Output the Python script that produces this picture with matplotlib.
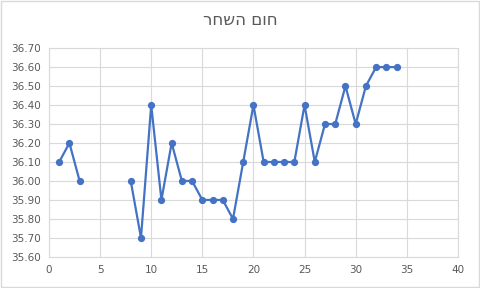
import numpy as np
import matplotlib.pyplot as plt
from matplotlib.patches import Rectangle

# נתונים
title = 'חום השחר'
days = [1, 2, 3, 4, 5, 6, 7, 8, 9, 10, 11, 12, 13, 14, 15, 16, 17,
        18, 19, 20, 21, 22, 23, 24, 25, 26, 27, 28, 29, 30, 31, 32, 33, 34]
temps = [36.1, 36.2, 36.0, np.nan, np.nan, np.nan, np.nan, 36.0, 35.7, 36.4,
         35.9, 36.2, 36.0, 36.0, 35.9, 35.9, 35.9, 35.8, 36.1, 36.4,
         36.1, 36.1, 36.1, 36.1, 36.4, 36.1, 36.3, 36.3, 36.5, 36.3,
         36.5, 36.6, 36.6, 36.6]

text_color = '#595959'
grid_color = '#d9d9d9'

fig = plt.figure(figsize=(4.8, 2.88), dpi=100)
ax = fig.add_axes([0.102, 0.108, 0.852, 0.725])

ax.plot(days, temps, color='#4472C4', linewidth=1.6, marker='o',
        markersize=4.2, zorder=3)

ax.set_xlim(0, 40)
ax.set_ylim(35.6, 36.7)
ax.set_xticks(np.arange(0, 41, 5))
ax.set_yticks(np.arange(35.6, 36.71, 0.1))
ax.set_yticklabels([f'{v:.2f}' for v in np.arange(35.6, 36.71, 0.1)])
ax.grid(True, color=grid_color, linewidth=0.8)
ax.set_axisbelow(True)
for s in ax.spines.values():
    s.set_color(grid_color)
    s.set_linewidth(0.8)
ax.tick_params(length=0, colors=text_color, labelsize=7.5, pad=6)

# matplotlib לא הופך טקסט מימין לשמאל, לכן הופכים את סדר התווים לתצוגה
fig.text(0.5, 0.93, title[::-1], ha='center', va='center',
         fontsize=12, color=text_color, family='DejaVu Sans')

fig.add_artist(Rectangle((0.002, 0.003), 0.995, 0.993, transform=fig.transFigure,
                         fill=False, edgecolor=grid_color, linewidth=1))

fig.savefig('out.png', dpi=100)
